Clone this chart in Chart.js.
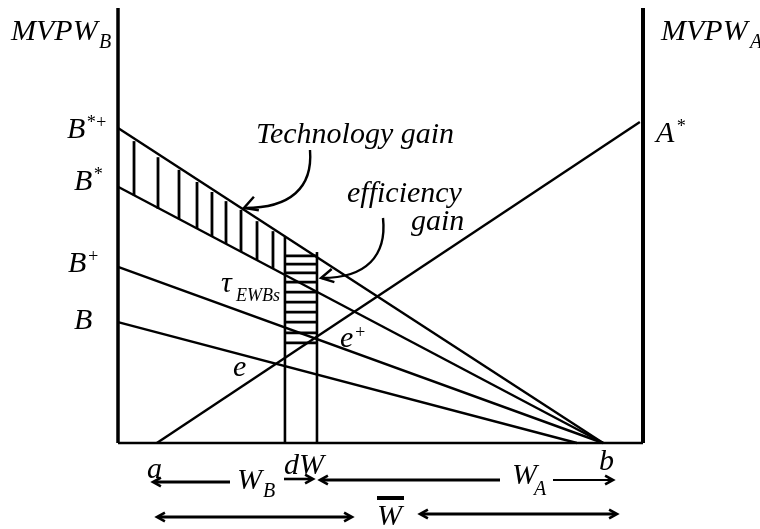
<!DOCTYPE html>
<html><head><meta charset="utf-8">
<script src="https://cdn.jsdelivr.net/npm/chart.js@4.4.0/dist/chart.umd.min.js"></script>
<style>html,body{margin:0;padding:0;background:#fff;} #wrap{width:760px;height:529px;}</style>
</head><body><div id="wrap"><canvas id="c" width="760" height="529"></canvas></div>
<script>
// ---- Data (x: 0..100 across W-bar, y: 0..100 MVP scale) ----
const lineBStarPlus = [{x:0,y:72.4},{x:92.4,y:0}];
const lineBStar     = [{x:0,y:58.9},{x:92.4,y:0}];
const lineBPlus     = [{x:0,y:40.5},{x:92.4,y:0}];
const lineB         = [{x:0,y:27.8},{x:87.4,y:0}];
const lineAStar     = [{x:7.4,y:0},{x:99.4,y:73.8}];
const dividerX   = [31.8, 37.9];
const dividerTop = [47.4, 43.9];
const vHatchX      = [3.05, 7.62, 11.62, 15.05, 17.9, 20.57, 23.43, 26.48, 29.52];
const vHatchBottom = [56.9, 53.8, 51.5, 49.3, 47.5, 45.8, 44.0, 42.1, 40.2];
const vHatchTop    = [69.4, 65.7, 62.8, 60.0, 57.7, 55.6, 53.6, 51.0, 48.7];
const hHatchY      = [43.0, 41.1, 39.1, 37.0, 34.7, 32.4, 30.1, 27.8, 25.3, 23.0];
const hHatchLeft = 31.8, hHatchRight = 37.9;

function seg(data, w) {
  return {data, showLine:true, borderColor:'#000', borderWidth:w, pointRadius:0, clip:false, fill:false, borderCapStyle:'butt'};
}
const datasets = [
  seg([{x:0,y:0},{x:0,y:100}], 3.5),
  seg([{x:100,y:0},{x:100,y:100}], 4),
  seg([{x:0,y:0},{x:100,y:0}], 2.5),
  seg(lineBStarPlus, 2.4), seg(lineBStar, 2.4), seg(lineBPlus, 2.4), seg(lineB, 2.4), seg(lineAStar, 2.4)
];
dividerX.forEach((x,i)=>datasets.push(seg([{x,y:0},{x,y:dividerTop[i]}], 2.6)));
vHatchX.forEach((x,i)=>datasets.push(seg([{x,y:vHatchBottom[i]},{x,y:vHatchTop[i]}], 2.8)));
hHatchY.forEach(y=>datasets.push(seg([{x:hHatchLeft,y},{x:hHatchRight,y}], 2.8)));

const FONT = '"Liberation Serif", "Times New Roman", serif';
const texts = [
  ['MVPW',11,40,30], ['B',99,48,20],
  ['MVPW',661,40,30], ['A',750,48,20],
  ['B',67,138,30], ['*+',86,128,18],
  ['B',74,190,30], ['*',93,180,18],
  ['B',68,272,30], ['+',87,262,18],
  ['B',74,329,30],
  ['A',656,142,30], ['*',676,132,18],
  ['Technology gain',256,143,30],
  ['efficiency',347,202,30],
  ['gain',411,230,30],
  ['\u03C4',221,292,30], ['EWBs',236,301,18],
  ['e',233,376,30],
  ['e',340,347,30], ['+',354,338,18],
  ['a',147,478,30],
  ['W',237,489,30], ['B',263,497,20],
  ['dW',284,474,30],
  ['W',512,484,30], ['A',534,495,20],
  ['b',599,470,30],
  ['W',377,525,30]
];

const annot = {
  id:'annot',
  afterDraw(chart){
    const ctx = chart.ctx;
    ctx.save();
    ctx.fillStyle = '#000'; ctx.strokeStyle = '#000';
    ctx.textBaseline = 'alphabetic';
    texts.forEach(([s,x,y,sz])=>{ ctx.font = `italic ${sz}px ${FONT}`; ctx.fillText(s,x,y); });
    // overbar on W
    ctx.lineWidth = 4; ctx.beginPath(); ctx.moveTo(377,498); ctx.lineTo(404,498); ctx.stroke();
    function head(tx,ty,ang,len,w){
      ctx.lineWidth = w; ctx.beginPath();
      ctx.moveTo(tx+len*Math.cos(ang+0.5), ty+len*Math.sin(ang+0.5));
      ctx.lineTo(tx,ty);
      ctx.lineTo(tx+len*Math.cos(ang-0.5), ty+len*Math.sin(ang-0.5));
      ctx.stroke();
    }
    function line(x1,y1,x2,y2,w){ ctx.lineWidth=w; ctx.beginPath(); ctx.moveTo(x1,y1); ctx.lineTo(x2,y2); ctx.stroke(); }
    // curved arrows
    ctx.lineWidth = 2.4;
    ctx.beginPath(); ctx.moveTo(310,150); ctx.bezierCurveTo(313,188,290,208,245,208); ctx.stroke();
    head(244,208,-0.35,15,2.4);
    ctx.lineWidth = 2.4;
    ctx.beginPath(); ctx.moveTo(383,218); ctx.bezierCurveTo(387,256,366,278,322,278); ctx.stroke();
    head(321,278,-0.2,14,2.4);
    // bottom arrows row 1
    ctx.lineCap = 'butt';
    line(154,482,230,482,3.2); head(153,482,0,9,2.6);
    line(284,479,312,479,2.6); head(313,479,Math.PI,9,2.6);
    line(321,480,500,480,3.2); head(320,480,0,9,2.6);
    line(553,480,612,480,2.2); head(613,480,Math.PI,9,2.6);
    // row 2
    line(158,517,351,517,3.2); head(157,517,0,9,2.6); head(352,517,Math.PI,9,2.6);
    line(421,514,616,514,3.2); head(420,514,0,9,2.6); head(617,514,Math.PI,9,2.6);
    ctx.restore();
  }
};

new Chart(document.getElementById('c'), {
  type:'scatter',
  data:{datasets},
  options:{
    responsive:false, animation:false, events:[],
    layout:{padding:{left:118, right:117, top:8, bottom:86}},
    plugins:{legend:{display:false}, tooltip:{enabled:false}},
    scales:{
      x:{type:'linear', min:0, max:100, display:false},
      y:{type:'linear', min:0, max:100, display:false}
    }
  },
  plugins:[annot]
});
</script></body></html>
